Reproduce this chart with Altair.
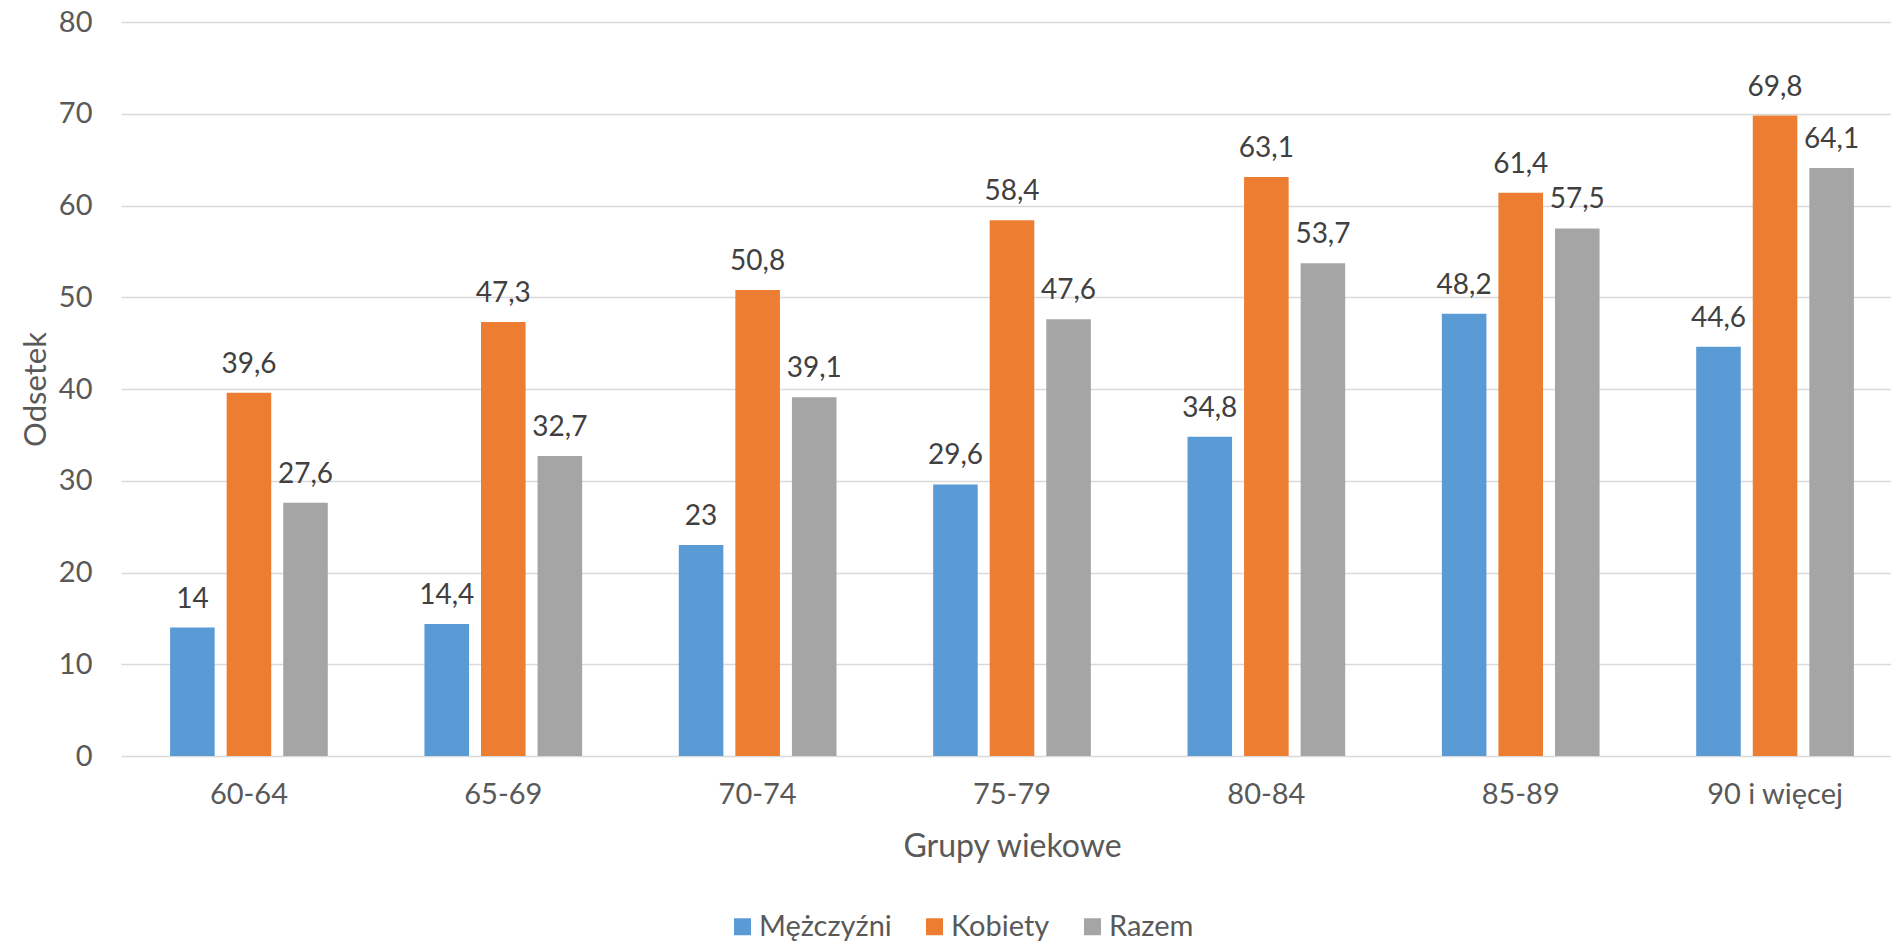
import altair as alt
import pandas as pd

# Age groups and percentage of each series
groups = ["60-64", "65-69", "70-74", "75-79", "80-84", "85-89", "90 i więcej"]
series = ["Mężczyźni", "Kobiety", "Razem"]
men = [14, 14.4, 23, 29.6, 34.8, 48.2, 44.6]
women = [39.6, 47.3, 50.8, 58.4, 63.1, 61.4, 69.8]
total = [27.6, 32.7, 39.1, 47.6, 53.7, 57.5, 64.1]
colors = ["#5B9BD5", "#ED7D31", "#A5A5A5"]
y_ticks = [0, 10, 20, 30, 40, 50, 60, 70, 80]

rows = []
for name, vals in zip(series, [men, women, total]):
    for g, v in zip(groups, vals):
        rows.append({"grupa": g, "seria": name, "odsetek": v})
df = pd.DataFrame(rows)

FONT = "Lato"
AXIS_GREY = "#595959"

x_enc = alt.X(
    "grupa:N",
    sort=groups,
    scale=alt.Scale(range=[0, 1782], paddingInner=0.38, paddingOuter=0.193),
    axis=alt.Axis(
        title="Grupy wiekowe",
        labelAngle=0,
        labelFontSize=29,
        labelColor=AXIS_GREY,
        labelPadding=24,
        ticks=False,
        domain=False,
        grid=False,
        titleFontSize=32,
        titleFontWeight="normal",
        titleColor=AXIS_GREY,
        titlePadding=22,
    ),
)
x_off = alt.XOffset(
    "seria:N",
    sort=series,
    scale=alt.Scale(paddingInner=0.212, paddingOuter=0),
)
y_enc = alt.Y(
    "odsetek:Q",
    scale=alt.Scale(domain=[0, 80], nice=False),
    axis=alt.Axis(
        title="Odsetek",
        values=y_ticks,
        labelFontSize=29,
        labelColor=AXIS_GREY,
        labelPadding=29,
        ticks=False,
        domain=False,
        gridColor="#D9D9D9",
        gridWidth=1.5,
        titleFontSize=31,
        titleFontWeight="normal",
        titleColor=AXIS_GREY,
        titleX=-85,
        titleY=367,
        titleBaseline="middle",
    ),
)

base = alt.Chart(df).encode(x=x_enc, xOffset=x_off, y=y_enc)

bars = base.mark_bar().encode(
    color=alt.Color(
        "seria:N",
        sort=series,
        scale=alt.Scale(domain=series, range=colors),
        legend=alt.Legend(
            title=None,
            orient="none",
            direction="horizontal",
            legendX=607,
            legendY=890,
            symbolType="square",
            symbolSize=289,
            symbolStrokeWidth=0,
            symbolOpacity=1,
            labelFontSize=29,
            labelColor=AXIS_GREY,
            labelOffset=2,
            columnPadding=28,
            padding=0,
        ),
    )
)

labels = base.mark_text(
    baseline="alphabetic", dy=-20, fontSize=28, color="#404040"
).transform_calculate(
    etykieta="replace(toString(datum.odsetek), '.', ',')"
).encode(text="etykieta:N")

chart = (
    alt.layer(bars, labels)
    .properties(
        width=1770,
        height=734,
        autosize=alt.AutoSizeParams(type="none"),
        padding={"left": 121, "top": 22, "right": 0, "bottom": 187},
    )
    .configure(font=FONT)
    .configure_view(stroke=None)
)

chart.save("out.html", embed_options={"renderer": "svg", "actions": False})
